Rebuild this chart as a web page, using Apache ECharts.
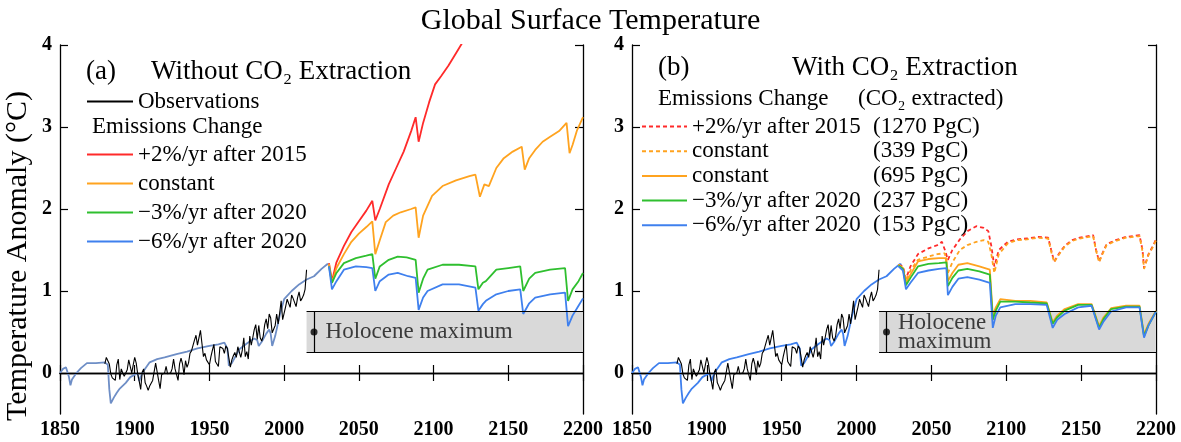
<!DOCTYPE html>
<html>
<head>
<meta charset="utf-8">
<script src="https://cdn.jsdelivr.net/npm/echarts@6/dist/echarts.min.js"></script>
<style>
  html, body { margin: 0; padding: 0; background: #fff; }
  #chart { width: 1181px; height: 442px; }
</style>
</head>
<body>
<div id="chart"></div>
<script>
// axis ticks
const xTicks = [1850, 1900, 1950, 2000, 2050, 2100, 2150, 2200];
const yTicks = [0, 1, 2, 3, 4];

// observed anomaly, 1880-2015
const obsYears = [];
for (let y = 1880; y <= 2015; y++) obsYears.push(y);
const obsValues = [
  0.11, 0.19, 0.17, 0.11, -0.01, -0.06, -0.04, -0.09, 0.10, 0.17,
  -0.08, 0.05, 0.00, -0.04, -0.05, 0.04, 0.16, 0.16, 0.00, 0.10,
  0.19, 0.12, -0.01, -0.10, -0.20, 0.01, 0.05, -0.12, -0.16, -0.21,
  -0.16, -0.17, -0.09, -0.07, 0.12, 0.13, -0.09, -0.19, -0.02, 0.00,
  0.00, 0.08, -0.01, 0.01, 0.00, 0.05, 0.17, 0.05, 0.07, -0.09,
  0.11, 0.18, 0.11, -0.02, 0.15, 0.07, 0.12, 0.24, 0.27, 0.25,
  0.40, 0.46, 0.34, 0.36, 0.52, 0.36, 0.20, 0.24, 0.16, 0.16,
  0.10, 0.20, 0.28, 0.35, 0.14, 0.13, 0.08, 0.32, 0.33, 0.30,
  0.24, 0.33, 0.30, 0.32, 0.07, 0.16, 0.21, 0.25, 0.19, 0.32,
  0.30, 0.19, 0.28, 0.43, 0.20, 0.26, 0.17, 0.45, 0.34, 0.43,
  0.53, 0.59, 0.41, 0.58, 0.43, 0.39, 0.45, 0.59, 0.66, 0.54,
  0.72, 0.67, 0.49, 0.50, 0.58, 0.72, 0.60, 0.73, 0.88, 0.65,
  0.66, 0.81, 0.90, 0.89, 0.80, 0.95, 0.91, 0.93, 0.81, 0.92,
  0.99, 0.88, 0.91, 0.95, 1.02, 1.26
];

// model, historical part (shared by all scenarios)
const modelHistory = [
  [1850, 0.00], [1852, 0.05], [1854, 0.07], [1856, -0.05], [1857, -0.15], [1858, -0.08],
  [1861, 0.00], [1864, 0.06], [1868, 0.12], [1874, 0.12], [1880, 0.13], [1882, 0.10],
  [1883, -0.20], [1884, -0.37], [1886, -0.30], [1888, -0.24], [1890, -0.19], [1894, -0.12],
  [1897, -0.05], [1900, -0.02], [1902, 0.00], [1903, -0.10], [1905, 0.00], [1910, 0.13],
  [1915, 0.17], [1920, 0.19], [1928, 0.23], [1935, 0.26], [1942, 0.30], [1950, 0.33],
  [1956, 0.35], [1960, 0.37], [1962, 0.30], [1963, 0.09], [1965, 0.12], [1970, 0.29],
  [1975, 0.36], [1980, 0.42], [1982, 0.40], [1983, 0.33], [1985, 0.38], [1988, 0.48],
  [1990, 0.53], [1991, 0.48], [1992, 0.33], [1994, 0.45], [1997, 0.70], [2000, 0.90],
  [2005, 1.00], [2010, 1.08], [2015, 1.14], [2020, 1.18], [2025, 1.27], [2029, 1.33], [2030, 1.32]
];

// (a) without CO2 extraction
const aPlus2 = [
  [2030, 1.34], [2032, 1.12], [2035, 1.35], [2040, 1.55], [2045, 1.72], [2050, 1.85],
  [2055, 1.98], [2059, 2.10], [2061, 1.86], [2064, 2.00], [2070, 2.30], [2075, 2.50],
  [2080, 2.70], [2085, 2.95], [2088, 3.12], [2090, 2.82], [2093, 3.05], [2097, 3.30],
  [2101, 3.52], [2105, 3.62], [2110, 3.75], [2115, 3.90], [2120, 4.05], [2130, 4.40]
];
const aConstant = [
  [2030, 1.33], [2032, 1.10], [2035, 1.28], [2040, 1.45], [2045, 1.60], [2050, 1.70],
  [2055, 1.78], [2059, 1.85], [2061, 1.45], [2064, 1.62], [2068, 1.84], [2073, 1.92],
  [2078, 1.96], [2085, 2.00], [2088, 2.02], [2090, 1.65], [2093, 1.92], [2099, 2.16],
  [2106, 2.28], [2115, 2.35], [2124, 2.40], [2128, 2.42], [2131, 2.15], [2134, 2.30],
  [2137, 2.28], [2142, 2.50], [2147, 2.62], [2153, 2.70], [2159, 2.76], [2161, 2.48],
  [2164, 2.62], [2168, 2.72], [2173, 2.82], [2178, 2.88], [2184, 2.95], [2189, 3.05],
  [2191, 2.68], [2193, 2.78], [2196, 2.96], [2200, 3.12]
];
const aMinus3 = [
  [2030, 1.30], [2032, 1.10], [2035, 1.22], [2040, 1.34], [2048, 1.40], [2055, 1.43],
  [2059, 1.45], [2061, 1.15], [2064, 1.30], [2070, 1.38], [2076, 1.42], [2082, 1.41],
  [2088, 1.38], [2090, 0.98], [2093, 1.15], [2096, 1.26], [2106, 1.32], [2117, 1.32],
  [2128, 1.30], [2130, 1.02], [2133, 1.10], [2135, 1.12], [2142, 1.26], [2150, 1.28],
  [2158, 1.30], [2160, 1.00], [2164, 1.15], [2168, 1.22], [2178, 1.26], [2188, 1.28],
  [2190, 0.88], [2193, 1.02], [2197, 1.12], [2200, 1.22]
];
const aMinus6 = [
  [2030, 1.30], [2032, 1.02], [2035, 1.12], [2040, 1.26], [2048, 1.30], [2055, 1.29],
  [2059, 1.28], [2061, 1.00], [2064, 1.12], [2070, 1.20], [2076, 1.22], [2083, 1.18],
  [2088, 1.16], [2090, 0.77], [2093, 0.92], [2096, 1.00], [2106, 1.08], [2117, 1.08],
  [2128, 1.04], [2130, 0.76], [2133, 0.84], [2135, 0.88], [2142, 0.96], [2150, 1.00],
  [2158, 1.02], [2160, 0.72], [2164, 0.85], [2168, 0.92], [2178, 0.96], [2188, 0.98],
  [2190, 0.57], [2193, 0.70], [2197, 0.82], [2200, 0.91]
];

// (b) with CO2 extraction
const bPlus2 = [
  [2028, 1.32], [2031, 1.30], [2033, 1.15], [2036, 1.30], [2041, 1.45], [2048, 1.52],
  [2054, 1.56], [2057, 1.60], [2059, 1.50], [2061, 1.38], [2064, 1.50], [2069, 1.63],
  [2074, 1.73], [2080, 1.79], [2085, 1.77], [2088, 1.73], [2090, 1.55], [2092, 1.30],
  [2095, 1.50], [2101, 1.60], [2107, 1.63], [2114, 1.64], [2121, 1.66], [2128, 1.65],
  [2130, 1.50], [2132, 1.36], [2135, 1.45], [2139, 1.55], [2144, 1.62], [2149, 1.65],
  [2158, 1.68], [2160, 1.50], [2162, 1.36], [2164, 1.45], [2167, 1.57], [2173, 1.62],
  [2180, 1.66], [2189, 1.68], [2191, 1.50], [2192, 1.28], [2195, 1.45], [2198, 1.55], [2200, 1.63]
];
const bConstantHigh = [
  [2028, 1.32], [2031, 1.28], [2033, 1.12], [2036, 1.25], [2041, 1.38], [2048, 1.42],
  [2054, 1.45], [2059, 1.46], [2061, 1.22], [2064, 1.35], [2069, 1.50], [2074, 1.56],
  [2080, 1.60], [2085, 1.62], [2088, 1.60], [2090, 1.45], [2092, 1.22], [2095, 1.45],
  [2101, 1.58], [2107, 1.62], [2114, 1.63], [2121, 1.65], [2128, 1.64], [2130, 1.48],
  [2132, 1.35], [2135, 1.44], [2139, 1.54], [2144, 1.61], [2149, 1.64], [2158, 1.67],
  [2160, 1.49], [2162, 1.35], [2164, 1.44], [2167, 1.56], [2173, 1.61], [2180, 1.65],
  [2189, 1.67], [2191, 1.48], [2192, 1.27], [2195, 1.44], [2198, 1.54], [2200, 1.62]
];
const bConstant = [
  [2028, 1.32], [2031, 1.28], [2033, 1.10], [2036, 1.20], [2041, 1.36], [2048, 1.39],
  [2055, 1.40], [2060, 1.40], [2061, 1.12], [2064, 1.22], [2068, 1.32], [2074, 1.34],
  [2082, 1.30], [2089, 1.26], [2091, 0.70], [2093, 0.80], [2096, 0.90], [2106, 0.88],
  [2116, 0.88], [2127, 0.86], [2131, 0.62], [2134, 0.70], [2139, 0.78], [2148, 0.84],
  [2157, 0.84], [2162, 0.57], [2165, 0.68], [2170, 0.79], [2180, 0.82], [2189, 0.82],
  [2192, 0.47], [2195, 0.60], [2200, 0.76]
];
const bMinus3 = [
  [2028, 1.31], [2031, 1.27], [2033, 1.07], [2036, 1.16], [2041, 1.30], [2048, 1.33],
  [2055, 1.34], [2060, 1.35], [2061, 1.06], [2064, 1.16], [2068, 1.25], [2074, 1.27],
  [2082, 1.24], [2089, 1.20], [2091, 0.65], [2093, 0.76], [2096, 0.87], [2106, 0.87],
  [2116, 0.86], [2127, 0.85], [2131, 0.60], [2134, 0.68], [2139, 0.76], [2148, 0.83],
  [2157, 0.83], [2162, 0.55], [2165, 0.66], [2170, 0.78], [2180, 0.81], [2189, 0.81],
  [2192, 0.45], [2195, 0.58], [2200, 0.75]
];
const bMinus6 = [
  [2028, 1.30], [2031, 1.25], [2033, 1.02], [2036, 1.10], [2041, 1.22], [2048, 1.25],
  [2055, 1.27], [2060, 1.28], [2061, 0.95], [2064, 1.05], [2068, 1.15], [2074, 1.17],
  [2082, 1.14], [2089, 1.10], [2091, 0.55], [2093, 0.70], [2096, 0.80], [2106, 0.84],
  [2116, 0.84], [2127, 0.83], [2131, 0.55], [2134, 0.65], [2139, 0.72], [2148, 0.80],
  [2157, 0.82], [2162, 0.53], [2165, 0.63], [2170, 0.75], [2180, 0.80], [2189, 0.80],
  [2192, 0.43], [2195, 0.58], [2200, 0.75]
];

// Holocene maximum range
const holoceneYears = [2015, 2200];
const holoceneBand = [0.25, 0.75];
const holocenePoint = [2020, 0.5];

const bLabels = {
  'b+2': ['+2%/yr after 2015', '(1270 PgC)'],
  'bConstHigh': ['constant', '(339 PgC)'],
  'bConst': ['constant', '(695 PgC)'],
  'b-3': ['\u22123%/yr after 2020', '(237 PgC)'],
  'b-6': ['\u22126%/yr after 2020', '(153 PgC)']
};

const serif = 'Liberation Serif';
const RED = '#ff2a2a', ORANGE = '#ffa31f', GREEN = '#2fbf2f', BLUE = '#3f80ee', SLATE = '#6e8ec6';

const myChart = echarts.init(document.getElementById('chart'));

const tickLabel = { color: '#000', fontFamily: serif, fontSize: 20, fontWeight: 'bold' };

function xAxes(grid) {
  return [
    {
      type: 'value', gridIndex: grid, min: 1850, max: 2200, interval: 50,
      axisLine: { lineStyle: { color: '#000', width: 1.3 } },
      axisTick: { inside: true, length: 8, lineStyle: { color: '#000', width: 1.2 } },
      axisLabel: Object.assign({ margin: 6, showMinLabel: true, showMaxLabel: true, formatter: v => String(v) }, tickLabel),
      splitLine: { show: false }
    },
    {
      type: 'value', gridIndex: grid, position: 'top', min: 1850, max: 2200, interval: 50,
      axisLine: { lineStyle: { color: '#000', width: 1.3 } },
      axisTick: { inside: true, length: 8, lineStyle: { color: '#000', width: 1.2 } },
      axisLabel: { show: false },
      splitLine: { show: false }
    }
  ];
}
function yAxes(grid) {
  return [
    {
      type: 'value', gridIndex: grid, min: -0.5, max: 4,
      axisLine: { lineStyle: { color: '#000', width: 1.3 } },
      axisTick: { inside: true, length: 8, customValues: yTicks.slice(1), lineStyle: { color: '#000', width: 1.2 } },
      axisLabel: Object.assign({ margin: 8, customValues: yTicks }, tickLabel),
      splitLine: { show: false }
    },
    {
      type: 'value', gridIndex: grid, position: 'right', min: -0.5, max: 4,
      axisLine: { lineStyle: { color: '#000', width: 1.3 } },
      axisTick: { inside: true, length: 8, customValues: yTicks.slice(1), lineStyle: { color: '#000', width: 1.2 } },
      axisLabel: { show: false },
      splitLine: { show: false }
    }
  ];
}

function line(name, data, color, xi, yi, dashed, width) {
  return {
    type: 'line', name: name, data: data, xAxisIndex: xi, yAxisIndex: yi,
    symbol: 'none', showSymbol: false, smooth: false, z: 3,
    lineStyle: { color: color, width: width || 1.8, type: dashed ? [4, 3] : 'solid' },
    itemStyle: { color: color },
    emphasis: { disabled: true }
  };
}

function holocene(name, xi, yi, labelText) {
  return {
    type: 'scatter', name: name, xAxisIndex: xi, yAxisIndex: yi, z: 2,
    data: [holocenePoint], symbolSize: 7, itemStyle: { color: '#000' },
    label: {
      show: true, position: 'right', distance: 8, formatter: labelText,
      fontFamily: serif, fontSize: 23, color: '#111', lineHeight: 19
    },
    emphasis: { disabled: true }, silent: true,
    markArea: {
      silent: true,
      itemStyle: { color: '#d9d9d9' },
      data: [[{ coord: [holoceneYears[0], holoceneBand[1]] }, { coord: [holoceneYears[1], holoceneBand[0]] }]]
    },
    markLine: {
      silent: true, symbol: ['none', 'none'], label: { show: false },
      lineStyle: { color: '#000', width: 1.2, type: 'solid' },
      data: [
        { yAxis: 0 },
        [{ coord: [holoceneYears[0], holoceneBand[1]] }, { coord: [holoceneYears[1], holoceneBand[1]] }],
        [{ coord: [holoceneYears[0], holoceneBand[0]] }, { coord: [holoceneYears[1], holoceneBand[0]] }],
        [{ coord: [holocenePoint[0], holoceneBand[0]] }, { coord: [holocenePoint[0], holoceneBand[1]] }]
      ]
    }
  };
}

function txt(x, y, text, size) {
  return {
    type: 'text', x: x, y: y,
    style: { text: text, font: size + 'px "Liberation Serif"', fill: '#000', verticalAlign: 'middle' }
  };
}

const obsData = obsYears.map((y, i) => [y, obsValues[i]]);

const legendText = { fontFamily: serif, fontSize: 23, color: '#000', lineHeight: 20 };

var option = {
  animation: false,
  backgroundColor: '#fff',
  title: {
    text: 'Global Surface Temperature', left: 'center', top: 1,
    textStyle: { fontFamily: serif, fontSize: 30, fontWeight: 'normal', color: '#000' }
  },
  grid: [
    { left: 60, top: 45, width: 523, height: 369 },
    { left: 632, top: 45, width: 524, height: 369 }
  ],
  xAxis: xAxes(0).concat(xAxes(1)),
  yAxis: yAxes(0).concat(yAxes(1)),
  legend: [
    {
      data: ['Observations'], orient: 'vertical', left: 86, top: 90, padding: 0,
      itemWidth: 46, itemHeight: 14, selectedMode: false,
      itemStyle: { opacity: 0 },
      textStyle: legendText
    },
    {
      data: ['+2%/yr after 2015', 'constant', '\u22123%/yr after 2020', '\u22126%/yr after 2020'],
      orient: 'vertical', left: 86, top: 143, padding: 0, itemGap: 6,
      itemWidth: 46, itemHeight: 14, selectedMode: false,
      itemStyle: { opacity: 0 },
      textStyle: legendText
    },
    {
      data: Object.keys(bLabels), orient: 'vertical', left: 641, top: 115, padding: 0, itemGap: 1.7,
      itemWidth: 45, itemHeight: 14, selectedMode: false,
      itemStyle: { opacity: 0 },
      formatter: n => '{a|' + bLabels[n][0] + '}{b|' + bLabels[n][1] + '}',
      textStyle: Object.assign({
        rich: {
          a: { width: 181, fontFamily: serif, fontSize: 23, color: '#000', lineHeight: 20 },
          b: { fontFamily: serif, fontSize: 23, color: '#000', lineHeight: 20 }
        }
      }, legendText)
    }
  ],
  graphic: [
    {
      type: 'text', x: 18, y: 256, rotation: Math.PI / 2,
      style: {
        text: 'Temperature Anomaly (\u00b0C)', font: '30px "Liberation Serif"', fill: '#000',
        align: 'center', verticalAlign: 'middle'
      }
    },
    txt(86, 72, '(a)', 27),
    txt(151, 72, 'Without CO\u2082 Extraction', 27),
    txt(92, 127, 'Emissions Change', 23),
    txt(658, 68, '(b)', 27),
    txt(792, 68, 'With CO\u2082 Extraction', 27),
    txt(658, 99, 'Emissions Change', 23),
    txt(858, 99, '(CO\u2082 extracted)', 23)
  ],
  series: [
    // panel (a)
    holocene('holoA', 0, 0, 'Holocene maximum'),
    line('historyA', modelHistory, SLATE, 0, 0),
    line('+2%/yr after 2015', aPlus2, RED, 0, 0),
    line('constant', aConstant, ORANGE, 0, 0),
    line('\u22123%/yr after 2020', aMinus3, GREEN, 0, 0),
    line('\u22126%/yr after 2020', aMinus6, BLUE, 0, 0),
    line('Observations', obsData, '#000', 0, 0, false, 1.1),
    // panel (b)
    holocene('holoB', 2, 2, 'Holocene\nmaximum'),
    line('historyB', modelHistory, BLUE, 2, 2),
    line('b+2', bPlus2, RED, 2, 2, true),
    line('bConstHigh', bConstantHigh, ORANGE, 2, 2, true),
    line('bConst', bConstant, ORANGE, 2, 2),
    line('b-3', bMinus3, GREEN, 2, 2),
    line('b-6', bMinus6, BLUE, 2, 2),
    line('obsB', obsData, '#000', 2, 2, false, 1.1)
  ]
};
myChart.setOption(option);
</script>
</body>
</html>
